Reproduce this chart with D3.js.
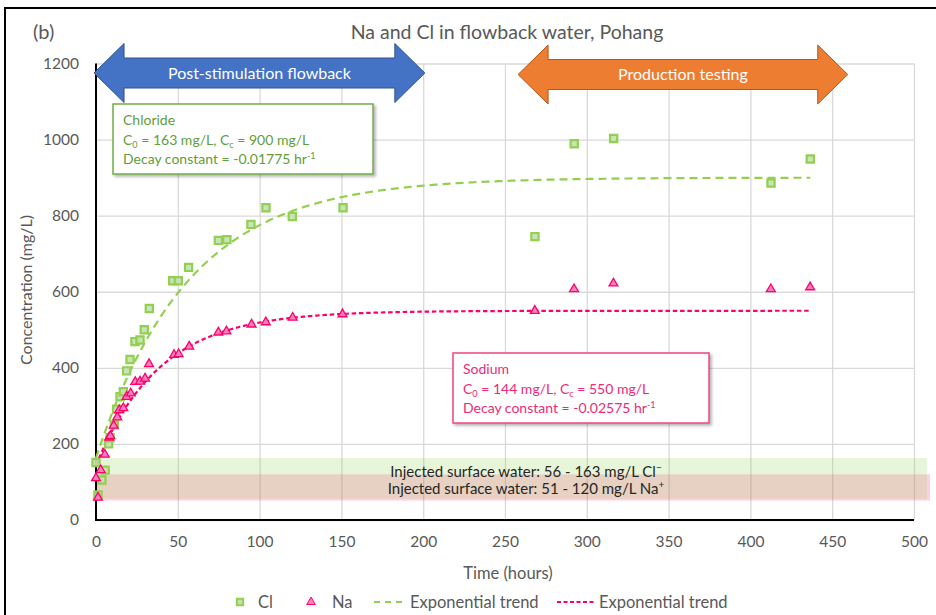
<!DOCTYPE html>
<html>
<head>
<meta charset="utf-8">
<script src="https://cdn.jsdelivr.net/npm/d3@7"></script>
<style>
  body { margin: 0; background: #fff; }
  svg { display: block; }
</style>
</head>
<body>
<svg id="chart" width="936" height="615"></svg>
<script>
// ---- data ----
const clHours = [0, 1.2, 3.6, 5.6, 7.7, 8.6, 11.2, 12.6, 14.7, 16.7, 18.7, 20.8, 23.8, 26.9, 29.5, 32.6,
                 46.9, 50.3, 56.6, 74.8, 80.0, 94.7, 103.9, 120.0, 151.0, 268.3, 292.3, 316.4, 412.6, 436.6];
const clConc  = [151, 66, 105, 131, 200, 216, 250, 291, 324, 337, 392, 422, 469, 473, 500, 556,
                 629, 629, 664, 735, 737, 777, 821, 798, 821, 745, 989, 1003, 886, 949];

const naHours = [0, 1.2, 2.9, 5.4, 8.0, 8.8, 10.8, 13.0, 14.2, 16.7, 18.7, 21.2, 24.0, 26.9, 30.0, 32.4,
                 47.7, 50.5, 57.0, 74.8, 79.7, 95.1, 103.8, 120.2, 150.7, 268.2, 292.2, 316.3, 412.5, 436.5];
const naConc  = [110, 59, 131, 172, 217, 221, 248, 270, 289, 294, 324, 333, 363, 364, 372, 410,
                 434, 436, 456, 493, 496, 514, 520, 532, 541, 550, 607, 622, 607, 612];

// exponential trend parameters: C(t) = Cc - (Cc - C0) * exp(-k t)
const trendIons = ['Cl', 'Na'];
const trendC0   = [163, 144];
const trendCc   = [900, 550];
const trendK    = [0.01775, 0.02575];
const trendEnd  = [436.6, 436.5];

// injected surface water ranges (mg/L)
const bandIons  = ['Na', 'Cl'];
const bandLow   = [51, 56];
const bandHigh  = [120, 163];

const xTicks = [0, 50, 100, 150, 200, 250, 300, 350, 400, 450, 500];
const yTicks = [0, 200, 400, 600, 800, 1000, 1200];

// ---- layout ----
const FONT = 'Lato, "Open Sans", sans-serif';
const GREY = '#595959';
const svg = d3.select('#chart');

const x = d3.scaleLinear().domain([0, 500]).range([96, 914]);
const y = d3.scaleLinear().domain([0, 1200]).range([520, 63.5]);

const defs = svg.append('defs');
const shadow = defs.append('filter').attr('id', 'shadow')
  .attr('x', '-10%').attr('y', '-10%').attr('width', '130%').attr('height', '140%');
shadow.append('feDropShadow').attr('dx', 2).attr('dy', 2).attr('stdDeviation', 1.5)
  .attr('flood-color', '#000').attr('flood-opacity', 0.3);

// outer chart frame
svg.append('path').attr('d', 'M5,615 L5,8 L936,8')
  .attr('fill', 'none').attr('stroke', '#000').attr('stroke-width', 2);

// title
svg.append('text').attr('x', 33).attr('y', 39).attr('font-family', FONT).attr('font-size', 20)
  .attr('fill', GREY).text('(b)');
svg.append('text').attr('x', 507).attr('y', 39).attr('text-anchor', 'middle')
  .attr('font-family', FONT).attr('font-size', 19.5).attr('fill', GREY)
  .text('Na and Cl in flowback water, Pohang');

// ---- grid + ticks ----
const gx = svg.append('g').attr('transform', `translate(0,${y(0)})`)
  .call(d3.axisBottom(x).tickValues(xTicks).tickFormat(d3.format('d'))
    .tickSize(-(y(0) - y(1200))).tickPadding(16));
const gy = svg.append('g').attr('transform', `translate(${x(0)},0)`)
  .call(d3.axisLeft(y).tickValues(yTicks).tickFormat(d3.format('d'))
    .tickSize(-(x(500) - x(0))).tickPadding(17));
[gx, gy].forEach(g => {
  g.select('.domain').remove();
  g.selectAll('.tick line').attr('stroke', '#d9d9d9').attr('stroke-width', 1.3);
  g.selectAll('.tick text').attr('fill', GREY).attr('font-family', FONT).attr('font-size', 15.5);
});

// ---- injected surface water bands ----
const bandRight = 508;
const bandFill  = { Na: '#ff0066', Cl: '#92d050' };
const bandAlpha = { Na: 0.18, Cl: 0.22 };
svg.append('g').selectAll('rect').data(bandIons).join('rect')
  .attr('x', x(0))
  .attr('width', d => x(bandRight + (d === 'Na' ? 1.8 : 0)) - x(0))
  .attr('y', (d, i) => y(bandHigh[i]))
  .attr('height', (d, i) => y(bandLow[i]) - y(bandHigh[i]))
  .attr('fill', d => bandFill[d]).attr('fill-opacity', d => bandAlpha[d]);

const bandText = svg.append('g').attr('font-family', FONT).attr('font-size', 15).attr('fill', '#262626')
  .attr('text-anchor', 'middle');
[['Cl', '\u2212', 476.5], ['Na', '+', 494]].forEach(([ion, charge, yy]) => {
  const i = bandIons.indexOf(ion);
  const t = bandText.append('text').attr('x', 526).attr('y', yy);
  t.append('tspan').text(`Injected surface water: ${bandLow[i]} - ${bandHigh[i]} mg/L ${ion}`);
  t.append('tspan').attr('font-size', 10).attr('dy', -6).text(charge);
});

// axis lines
svg.append('line').attr('x1', x(0)).attr('x2', x(0)).attr('y1', y(1200)).attr('y2', y(0) + 1)
  .attr('stroke', '#000').attr('stroke-width', 2);
svg.append('line').attr('x1', x(0) - 1).attr('x2', x(500)).attr('y1', y(0)).attr('y2', y(0))
  .attr('stroke', '#000').attr('stroke-width', 2);

// axis titles
svg.append('text').attr('x', 508).attr('y', 579).attr('text-anchor', 'middle')
  .attr('font-family', FONT).attr('font-size', 16.5).attr('fill', GREY).text('Time (hours)');
svg.append('text').attr('transform', 'translate(32,290) rotate(-90)').attr('text-anchor', 'middle')
  .attr('font-family', FONT).attr('font-size', 16).attr('fill', GREY).text('Concentration (mg/L)');

// ---- trend lines ----
const trendColor = { Cl: '#92d050', Na: '#ff0066' };
const trendDash  = { Cl: '8,5', Na: '4.5,2.8' };
const line = d3.line().x(d => x(d[0])).y(d => y(d[1])).curve(d3.curveMonotoneX);
trendIons.forEach((ion, i) => {
  const ts = d3.range(0, trendEnd[i], 1).concat([trendEnd[i]]);
  const pts = ts.map(t => [t, trendCc[i] - (trendCc[i] - trendC0[i]) * Math.exp(-trendK[i] * t)]);
  svg.append('path').datum(pts).attr('d', line).attr('fill', 'none')
    .attr('stroke', trendColor[ion]).attr('stroke-width', 2.2).attr('stroke-dasharray', trendDash[ion]);
});

// ---- markers ----
const squarePath = d3.symbol(d3.symbolSquare, 52)();
const triPath = d3.symbol(d3.symbolTriangle, 34)();
svg.append('g').selectAll('path').data(clHours).join('path')
  .attr('d', squarePath)
  .attr('transform', (d, i) => `translate(${x(d)},${y(clConc[i])})`)
  .attr('fill', '#c5dfb4').attr('fill-opacity', 0.9)
  .attr('stroke', '#92d050').attr('stroke-width', 2.2);
svg.append('g').selectAll('path').data(naHours).join('path')
  .attr('d', triPath)
  .attr('transform', (d, i) => `translate(${x(d)},${y(naConc[i])})`)
  .attr('fill', '#ff7fc4').attr('stroke', '#ff0066').attr('stroke-width', 1.3);

// ---- annotation boxes ----
// parts: plain strings, or {t, dy} for a raised/lowered small run
function richText(sel, parts, baseSize) {
  let carry = 0;
  parts.forEach(p => {
    if (typeof p === 'string') {
      const ts = sel.append('tspan').text(p);
      if (carry) ts.attr('dy', carry);
      carry = 0;
    } else {
      sel.append('tspan').attr('font-size', baseSize * 0.65).attr('dy', p.dy + carry).text(p.t);
      carry = -p.dy;
    }
  });
}
function infoBox(bx, by, bw, bh, color, textColor, title, i) {
  const g = svg.append('g');
  g.append('rect').attr('x', bx).attr('y', by).attr('width', bw).attr('height', bh)
    .attr('fill', '#fff').attr('stroke', color).attr('stroke-width', 1.5).attr('filter', 'url(#shadow)');
  const tg = g.append('g').attr('font-family', FONT).attr('font-size', 14).attr('fill', textColor);
  tg.append('text').attr('x', bx + 10).attr('y', by + 21).text(title);
  richText(tg.append('text').attr('x', bx + 10).attr('y', by + 41),
    ['C', { t: '0', dy: 3 }, ` = ${trendC0[i]} mg/L, C`, { t: 'c', dy: 3 }, ` = ${trendCc[i]} mg/L`], 14);
  richText(tg.append('text').attr('x', bx + 10).attr('y', by + 60),
    [`Decay constant = -${trendK[i].toFixed(5)} hr`, { t: '-1', dy: -5 }], 14);
}
infoBox(113, 104, 260, 70, '#70ad47', '#5f9e3a', 'Chloride', 0);
infoBox(453, 353, 256, 70, '#f0447f', '#ee2a78', 'Sodium', 1);

// ---- phase arrows ----
function doubleArrow(t0, t1, yc, fill, stroke, label) {
  const x0 = x(t0), x1 = x(t1), hl = 30, hh = 29.5, sh = 15;
  const d = `M${x0},${yc} L${x0 + hl},${yc - hh} L${x0 + hl},${yc - sh} L${x1 - hl},${yc - sh} ` +
            `L${x1 - hl},${yc - hh} L${x1},${yc} L${x1 - hl},${yc + hh} L${x1 - hl},${yc + sh} ` +
            `L${x0 + hl},${yc + sh} L${x0 + hl},${yc + hh} Z`;
  svg.append('path').attr('d', d).attr('fill', fill).attr('stroke', stroke).attr('stroke-width', 1);
  svg.append('text').attr('x', (x0 + x1) / 2).attr('y', yc + 5.5).attr('text-anchor', 'middle')
    .attr('font-family', FONT).attr('font-size', 16).attr('fill', '#fff').text(label);
}
doubleArrow(-1.2, 201, 73, '#4472c4', '#2f528f', 'Post-stimulation flowback');
doubleArrow(258, 459.5, 74.5, '#ed7d31', '#ae5a21', 'Production testing');

// ---- legend ----
const lg = svg.append('g').attr('font-family', FONT).attr('font-size', 16.5).attr('fill', GREY);
lg.append('path').attr('d', d3.symbol(d3.symbolSquare, 40)()).attr('transform', 'translate(240,602)')
  .attr('fill', '#c5dfb4').attr('stroke', '#92d050').attr('stroke-width', 2);
lg.append('text').attr('x', 258).attr('y', 608).text('Cl');
lg.append('path').attr('d', d3.symbol(d3.symbolTriangle, 32)()).attr('transform', 'translate(311,602)')
  .attr('fill', '#ff7fc4').attr('stroke', '#ff0066').attr('stroke-width', 1);
lg.append('text').attr('x', 332).attr('y', 608).text('Na');
lg.append('line').attr('x1', 374).attr('x2', 407).attr('y1', 602).attr('y2', 602)
  .attr('stroke', trendColor.Cl).attr('stroke-width', 2).attr('stroke-dasharray', '6,5');
lg.append('text').attr('x', 410).attr('y', 608).text('Exponential trend');
lg.append('line').attr('x1', 557).attr('x2', 594).attr('y1', 602).attr('y2', 602)
  .attr('stroke', trendColor.Na).attr('stroke-width', 2).attr('stroke-dasharray', '4,2.5');
lg.append('text').attr('x', 599).attr('y', 608).text('Exponential trend');
</script>
</body>
</html>
